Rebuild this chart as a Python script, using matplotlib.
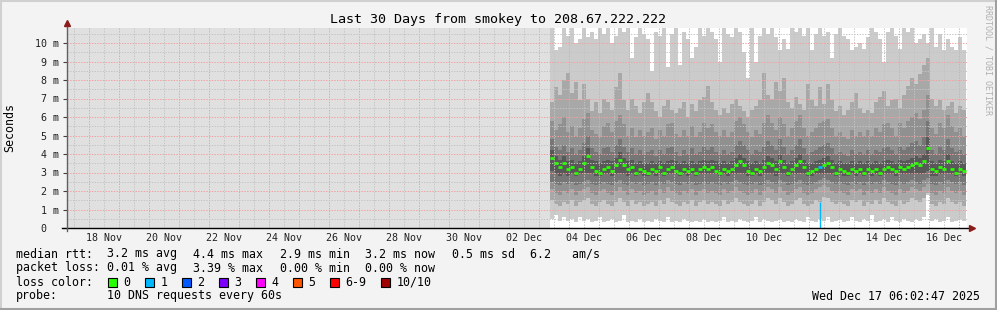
import numpy as np
import pandas as pd
import matplotlib
matplotlib.use("Agg")
import matplotlib.pyplot as plt
import matplotlib.dates as mdates
from matplotlib.patches import Rectangle
from matplotlib.lines import Line2D

plt.rcParams['font.family'] = ['DejaVu Sans Mono']

W, H = 997, 310

### Data (10 sorted pings per sample, in ms)

t_end = pd.Timestamp("2025-12-17 06:02:47")
t_start = t_end - pd.Timedelta(days=30)
t_edges = pd.date_range("2025-12-03 08:26", periods=105, freq="192min")

p10 = [11, 9.6, 9.8, 11, 10.4, 11, 10.0, 10.2,
       11, 10.3, 10.6, 10.2, 11, 10.5, 11, 10.0,
       10.4, 11, 10.6, 11, 9.2, 10.3, 11, 10.5,
       10.2, 8.5, 10.6, 10.4, 11, 8.7, 10.5, 10.8,
       8.8, 10.6, 10.2, 9.2, 9.8, 11, 10.4, 11,
       10.6, 10.2, 9.0, 11, 10.5, 10.3, 11, 10.6,
       9.5, 8.1, 11, 9.0, 10.4, 11, 10.5, 11,
       10.3, 9.6, 10.2, 9.7, 11, 10.6, 10.8, 10.4,
       11, 9.6, 10.5, 11, 10.4, 10.6, 9.2, 10.5,
       11, 10.4, 10.2, 9.6, 9.8, 10.0, 9.7, 10.3,
       11, 10.6, 10.2, 9.0, 10.6, 11, 10.4, 9.7,
       11, 10.6, 10.8, 10.0, 10.2, 10.5, 10.0, 11,
       9.8, 10.5, 9.6, 10.2, 9.8, 9.6, 10.3, 9.6]
p9 = [6.8, 7.6, 7.2, 8.0, 8.4, 7.3, 7.9, 6.9,
      7.8, 7.0, 6.3, 6.8, 6.2, 7.0, 6.8, 6.4,
      7.6, 8.4, 6.9, 6.4, 7.0, 6.6, 6.2, 6.8,
      7.3, 6.8, 6.3, 6.0, 6.6, 6.9, 6.4, 6.2,
      6.5, 6.8, 6.0, 6.7, 6.3, 6.9, 7.1, 7.7,
      6.8, 6.4, 6.1, 6.5, 6.2, 6.7, 7.0, 6.6,
      6.3, 6.0, 6.4, 6.6, 6.9, 8.4, 7.2, 7.0,
      7.9, 7.4, 8.1, 6.8, 6.5, 7.1, 6.7, 6.4,
      7.8, 6.9, 6.6, 7.6, 6.7, 7.8, 6.9, 6.3,
      6.6, 6.1, 6.4, 6.8, 7.3, 6.5, 6.2, 6.4,
      6.2, 6.8, 7.1, 7.4, 6.6, 6.9, 7.0, 6.5,
      7.2, 7.7, 8.1, 7.8, 8.3, 8.8, 9.2, 7.0,
      6.6, 6.9, 6.4, 6.6, 6.8, 6.2, 6.6, 6.4]
p8 = [5.8, 5.3, 5.6, 6.0, 5.2, 5.5, 5.0, 5.4,
      5.9, 6.2, 5.3, 5.1, 4.9, 5.5, 5.7, 5.2,
      5.8, 6.1, 5.6, 5.0, 5.4, 4.9, 5.3, 5.0,
      5.2, 5.4, 4.8, 5.3, 5.0, 5.6, 5.7, 5.1,
      4.9, 5.3, 5.0, 5.5, 4.9, 5.2, 5.7, 5.4,
      5.6, 5.2, 5.0, 5.3, 4.9, 5.2, 5.8, 6.0,
      5.6, 5.2, 4.9, 5.3, 5.1, 5.7, 6.1, 5.7,
      5.3, 6.0, 5.6, 5.0, 5.4, 5.8, 6.1, 5.4,
      5.0, 5.2, 5.4, 5.7, 5.8, 5.9, 5.4, 5.0,
      5.2, 4.9, 4.8, 5.3, 5.0, 5.2, 5.0, 5.3,
      5.0, 5.4, 5.2, 5.6, 5.7, 5.4, 5.0, 5.7,
      5.4, 5.8, 6.0, 6.2, 5.9, 6.4, 7.2, 5.4,
      5.1, 5.7, 5.4, 6.1, 5.5, 5.2, 5.4, 5.0]
p7 = [4.8, 4.4, 4.2, 4.5, 4.1, 4.3, 4.0, 4.2,
      4.6, 5.0, 4.3, 4.1, 4.0, 4.3, 4.4, 4.1,
      4.5, 4.8, 4.4, 4.1, 4.3, 4.0, 4.2, 4.0,
      4.1, 4.2, 3.9, 4.2, 4.0, 4.3, 4.4, 4.1,
      3.9, 4.2, 4.0, 4.3, 4.0, 4.1, 4.4, 4.2,
      4.4, 4.1, 4.0, 4.2, 4.0, 4.1, 4.5, 4.7,
      4.5, 4.2, 4.0, 4.2, 4.1, 4.4, 4.7, 4.5,
      4.2, 4.8, 4.4, 4.0, 4.2, 4.5, 4.8, 4.3,
      4.0, 4.1, 4.2, 4.4, 4.5, 4.6, 4.3, 4.0,
      4.1, 4.0, 3.9, 4.2, 4.0, 4.1, 4.0, 4.2,
      4.0, 4.2, 4.1, 4.3, 4.4, 4.2, 4.0, 4.4,
      4.2, 4.4, 4.6, 4.7, 4.5, 4.9, 5.8, 4.2,
      4.0, 4.4, 4.2, 4.8, 4.3, 4.1, 4.2, 4.0]
p6 = [4.2, 3.9, 3.7, 3.9, 3.6, 3.7, 3.5, 3.6,
      3.9, 4.3, 3.7, 3.6, 3.5, 3.6, 3.7, 3.6,
      3.8, 4.1, 3.8, 3.6, 3.7, 3.5, 3.6, 3.5,
      3.5, 3.6, 3.5, 3.6, 3.5, 3.6, 3.7, 3.6,
      3.5, 3.6, 3.5, 3.6, 3.5, 3.6, 3.7, 3.6,
      3.7, 3.6, 3.5, 3.6, 3.5, 3.6, 3.8, 4.0,
      3.8, 3.6, 3.5, 3.6, 3.5, 3.7, 3.9, 3.8,
      3.6, 4.0, 3.7, 3.5, 3.6, 3.8, 4.0, 3.7,
      3.5, 3.5, 3.6, 3.7, 3.8, 3.9, 3.7, 3.5,
      3.6, 3.5, 3.5, 3.6, 3.5, 3.6, 3.5, 3.6,
      3.5, 3.6, 3.5, 3.6, 3.7, 3.6, 3.5, 3.7,
      3.6, 3.7, 3.8, 3.9, 3.8, 4.0, 4.9, 3.6,
      3.5, 3.7, 3.6, 4.0, 3.6, 3.5, 3.6, 3.5]
p5 = [3.1, 2.9, 2.8, 2.9, 2.8, 2.9, 2.8, 2.9,
      2.9, 3.0, 2.9, 2.8, 2.8, 2.9, 2.9, 2.8,
      2.9, 3.0, 2.9, 2.8, 2.9, 2.8, 2.9, 2.8,
      2.8, 2.9, 2.8, 2.9, 2.8, 2.9, 2.9, 2.9,
      2.8, 2.9, 2.8, 2.9, 2.8, 2.9, 2.9, 2.9,
      2.9, 2.9, 2.8, 2.9, 2.8, 2.9, 2.9, 3.0,
      2.9, 2.8, 2.8, 2.9, 2.8, 2.9, 3.0, 2.9,
      2.8, 3.0, 2.9, 2.8, 2.9, 2.9, 3.0, 2.9,
      2.8, 2.8, 2.9, 2.9, 2.9, 3.0, 2.9, 2.8,
      2.9, 2.8, 2.8, 2.9, 2.8, 2.9, 2.8, 2.9,
      2.8, 2.9, 2.8, 2.9, 2.9, 2.9, 2.8, 2.9,
      2.9, 2.9, 2.9, 3.0, 2.9, 3.0, 3.1, 2.8,
      2.8, 2.9, 2.9, 3.0, 2.9, 2.8, 2.9, 2.8]
p4 = [2.5, 2.4, 2.3, 2.5, 2.4, 2.5, 2.3, 2.4,
      2.5, 2.6, 2.4, 2.3, 2.4, 2.5, 2.4, 2.3,
      2.5, 2.6, 2.4, 2.3, 2.5, 2.4, 2.5, 2.3,
      2.4, 2.5, 2.3, 2.5, 2.4, 2.6, 2.5, 2.4,
      2.3, 2.5, 2.4, 2.5, 2.3, 2.4, 2.5, 2.4,
      2.5, 2.4, 2.3, 2.5, 2.4, 2.5, 2.6, 2.5,
      2.4, 2.3, 2.4, 2.5, 2.3, 2.4, 2.6, 2.5,
      2.4, 2.6, 2.5, 2.3, 2.4, 2.5, 2.6, 2.4,
      2.3, 2.4, 2.5, 2.6, 2.7, 2.6, 2.5, 2.4,
      2.5, 2.4, 2.3, 2.5, 2.4, 2.5, 2.3, 2.5,
      2.4, 2.5, 2.4, 2.6, 2.5, 2.4, 2.3, 2.5,
      2.4, 2.5, 2.6, 2.5, 2.4, 2.6, 2.7, 2.4,
      2.3, 2.5, 2.4, 2.6, 2.5, 2.4, 2.5, 2.3]
p3 = [2.1, 1.9, 1.8, 2.0, 1.9, 2.1, 1.8, 2.0,
      2.1, 2.2, 1.9, 1.8, 2.0, 2.1, 1.9, 1.8,
      2.0, 2.2, 2.0, 1.8, 2.1, 1.9, 2.0, 1.8,
      1.9, 2.0, 1.8, 2.1, 1.9, 2.2, 2.0, 1.9,
      1.8, 2.0, 1.9, 2.1, 1.8, 2.0, 2.1, 1.9,
      2.0, 1.9, 1.8, 2.1, 1.9, 2.0, 2.2, 2.0,
      1.9, 1.8, 1.9, 2.1, 1.8, 2.0, 2.2, 2.1,
      1.9, 2.2, 2.0, 1.8, 1.9, 2.1, 2.2, 1.9,
      1.8, 1.9, 2.1, 2.2, 2.3, 2.2, 2.0, 1.9,
      2.0, 1.9, 1.8, 2.1, 2.0, 2.1, 1.8, 2.0,
      1.9, 2.1, 1.9, 2.2, 2.0, 1.9, 1.8, 2.1,
      1.9, 2.0, 2.2, 2.1, 2.0, 2.2, 2.4, 1.9,
      1.8, 2.0, 1.9, 2.2, 2.0, 1.9, 2.0, 1.8]
p2 = [1.5, 1.3, 1.2, 1.4, 1.3, 1.5, 1.2, 1.4,
      1.5, 1.6, 1.3, 1.2, 1.4, 1.5, 1.3, 1.2,
      1.4, 1.6, 1.4, 1.2, 1.5, 1.3, 1.4, 1.2,
      1.3, 1.4, 1.2, 1.5, 1.3, 1.6, 1.4, 1.3,
      1.2, 1.4, 1.3, 1.5, 1.2, 1.4, 1.5, 1.3,
      1.4, 1.3, 1.2, 1.5, 1.3, 1.4, 1.6, 1.4,
      1.3, 1.2, 1.3, 1.5, 1.2, 1.4, 1.6, 1.5,
      1.3, 1.6, 1.4, 1.2, 1.3, 1.5, 1.6, 1.3,
      1.2, 1.3, 1.5, 1.4, 1.7, 1.6, 1.4, 1.3,
      1.4, 1.3, 1.2, 1.5, 1.4, 1.5, 1.2, 1.4,
      1.3, 1.5, 1.3, 1.6, 1.4, 1.3, 1.2, 1.5,
      1.3, 1.4, 1.6, 1.5, 1.4, 1.6, 1.9, 1.3,
      1.2, 1.4, 1.3, 1.6, 1.4, 1.3, 1.4, 1.2]
p1 = [0.5, 0.7, 0.4, 0.6, 0.4, 0.5, 0.3, 0.6,
      0.4, 0.5, 0.3, 0.4, 0.6, 0.3, 0.4, 0.5,
      0.3, 0.4, 0.7, 0.3, 0.4, 0.3, 0.5, 0.3,
      0.4, 0.3, 0.5, 0.4, 0.3, 0.6, 0.3, 0.4,
      0.3, 0.5, 0.4, 0.3, 0.4, 0.3, 0.5, 0.3,
      0.4, 0.3, 0.4, 0.6, 0.3, 0.4, 0.3, 0.5,
      0.4, 0.3, 0.4, 0.6, 0.3, 0.5, 0.4, 0.3,
      0.4, 0.5, 0.3, 0.4, 0.3, 0.5, 0.4, 0.3,
      0.6, 0.4, 0.3, 0.5, 0.4, 0.6, 0.3, 0.4,
      0.5, 0.3, 0.4, 0.6, 0.4, 0.3, 0.5, 0.4,
      0.7, 0.3, 0.4, 0.5, 0.3, 0.6, 0.4, 0.3,
      0.5, 0.4, 0.3, 0.5, 0.4, 0.6, 1.8, 0.4,
      0.5, 0.3, 0.4, 0.6, 0.3, 0.4, 0.5, 0.4]
median = [3.8, 3.5, 3.3, 3.5, 3.2, 3.3, 3.0, 3.2,
          3.5, 3.9, 3.3, 3.1, 3.0, 3.2, 3.3, 3.1,
          3.4, 3.7, 3.4, 3.2, 3.3, 3.0, 3.2, 3.1,
          3.0, 3.2, 3.1, 3.3, 3.0, 3.2, 3.3, 3.1,
          3.0, 3.2, 3.1, 3.2, 3.0, 3.2, 3.3, 3.2,
          3.3, 3.1, 3.0, 3.2, 3.1, 3.2, 3.4, 3.6,
          3.4, 3.1, 3.0, 3.2, 3.1, 3.3, 3.5, 3.4,
          3.2, 3.6, 3.3, 3.0, 3.2, 3.4, 3.6, 3.3,
          3.0, 3.1, 3.2, 3.3, 3.4, 3.5, 3.3, 3.0,
          3.2, 3.1, 3.0, 3.2, 3.1, 3.2, 3.0, 3.2,
          3.1, 3.2, 3.0, 3.2, 3.3, 3.2, 3.1, 3.3,
          3.2, 3.3, 3.4, 3.5, 3.4, 3.6, 4.3, 3.2,
          3.1, 3.3, 3.2, 3.6, 3.2, 3.0, 3.2, 3.1]
loss = np.zeros(104, dtype=int)
loss[67] = 1

loss_labels = ['0', '1', '2', '3', '4', '5', '6-9', '10/10']
loss_colors = ['#26ff00', '#00b8ff', '#0059ff', '#7e00ff', '#ff00ff',
               '#ff5500', '#ff0000', '#a00000']
smoke_colors = ['#cbcbcb', '#a8a8a8', '#909090', '#767676', '#585858']

legend_rows = [
    ("median rtt:", ["3.2 ms avg", "4.4 ms max", "2.9 ms min", "3.2 ms now",
                     "0.5 ms sd", "6.2   am/s"]),
    ("packet loss:", ["0.01 % avg", "3.39 % max", "0.00 % min", "0.00 % now"]),
]
title = "Last 30 Days from smokey to 208.67.222.222"

### Figure

def fx(x):
    return x / W

def fy(y):
    return 1 - y / H

fig = plt.figure(figsize=(W / 100, H / 100), dpi=100)
fig.patch.set_facecolor('#f3f3f3')
# rrdtool style 3D frame
fig.add_artist(Line2D([0, 1], [fy(0.5), fy(0.5)], color='#d0d0d0', lw=1.5))
fig.add_artist(Line2D([fx(0.5), fx(0.5)], [0, 1], color='#d0d0d0', lw=1.5))
fig.add_artist(Line2D([0, 1], [fy(309), fy(309)], color='#a0a0a0', lw=1.5))
fig.add_artist(Line2D([fx(996), fx(996)], [0, 1], color='#a0a0a0', lw=1.5))

ax = fig.add_axes([fx(67), fy(228), 900 / W, 200 / H])
ax.set_facecolor('white')

edges = mdates.date2num(t_edges.to_pydatetime())
x0 = mdates.date2num(t_start.to_pydatetime())
x1 = mdates.date2num(t_end.to_pydatetime())

# no data before the first sample
ax.axvspan(x0, edges[0], color='#e0e0e0', lw=0, zorder=0)

lows = [p1, p2, p3, p4, p5]
highs = [p10, p9, p8, p7, p6]
for lo, hi, c in zip(lows, highs, smoke_colors):
    ax.stairs(hi, edges, baseline=lo, fill=True, color=c, lw=0, zorder=1)

# grid
midnights = mdates.date2num(pd.date_range("2025-11-18", "2025-12-17", freq="D").to_pydatetime())
noons = mdates.date2num(pd.date_range("2025-11-17 12:00", "2025-12-16 12:00", freq="D").to_pydatetime())
dots = (0, (1.4, 1.4))
for v in noons:
    ax.axvline(v, color='#c4c4c4', lw=0.7, ls=dots, zorder=2)
for v in midnights:
    ax.axvline(v, color='#f2a0a0', lw=0.7, ls=dots, zorder=2)
for v in np.arange(0.5, 10.6, 1.0):
    ax.axhline(v, color='#c4c4c4', lw=0.7, ls=dots, zorder=2)
for v in range(1, 11):
    ax.axhline(v, color='#f2a0a0', lw=0.7, ls=dots, zorder=2)

# median, coloured by loss, drawn as short flat dashes like smokeping
med = np.array(median, dtype=float)
for k, c in enumerate(loss_colors[:2]):
    sel = loss == k
    ax.hlines(med[sel], edges[:-1][sel], edges[1:][sel], color=c, lw=2.0, zorder=4)
li = np.where(loss > 0)[0]
ax.vlines((edges[li] + edges[li + 1]) / 2, 0, np.array(p2)[li],
          color=loss_colors[1], lw=1, zorder=4)

ax.set_xlim(x0, x1)
ax.set_ylim(0, 200 / 18.5)

for s in ax.spines.values():
    s.set_visible(False)

ax.set_yticks(range(0, 11))
ax.set_yticklabels(['0  '] + [f'{i} m' for i in range(1, 11)])
ax.tick_params(axis='y', length=3, width=0.8, color='#404040', pad=2.6,
               labelsize=7.2, labelcolor='#202020')
lab_days = pd.date_range("2025-11-18 12:00", "2025-12-16 12:00", freq="2D")
ax.set_xticks(mdates.date2num(lab_days.to_pydatetime()))
ax.set_xticklabels([d.strftime('%d %b') for d in lab_days])
ax.tick_params(axis='x', length=0, pad=3.6, labelsize=7.2, labelcolor='#202020')

# axis lines with arrows
fig.add_artist(Line2D([fx(62), fx(970)], [fy(228), fy(228)], color='black', lw=1))
fig.add_artist(Line2D([fx(67), fx(67)], [fy(24), fy(231)], color='#606060', lw=1))
fig.add_artist(Line2D([fx(67)], [fy(23)], marker='^', ms=5, color='#8b1a1a', lw=0))
fig.add_artist(Line2D([fx(972)], [fy(228)], marker='>', ms=5, color='#8b1a1a', lw=0))

# texts
fig.text(fx(498), fy(19), title, ha='center', va='center', fontsize=9.6)
fig.text(fx(10), fy(127), "Seconds", rotation=90, ha='center', va='center', fontsize=8.4)
fig.text(fx(988), fy(60), "RRDTOOL / TOBI OETIKER", rotation=270, ha='center',
         va='center', fontsize=6, color='#b0b0b0')

col_x = [107.3, 193.3, 279.5, 365, 451.5, 530]
for (head, items), y in zip(legend_rows, [254, 268]):
    fig.text(fx(16), fy(y), head, ha='left', va='center', fontsize=8.4)
    for it, x in zip(items, col_x):
        fig.text(fx(x), fy(y), it, ha='left', va='center', fontsize=8.4)

fig.text(fx(16), fy(282), "loss color:", ha='left', va='center', fontsize=8.4)
bx = 108.3
for lab, c in zip(loss_labels, loss_colors):
    fig.add_artist(Rectangle((fx(bx), fy(286.5)), 8.5 / W, 8.5 / H, transform=fig.transFigure,
                             facecolor=c, edgecolor='black', lw=0.8))
    fig.text(fx(bx + 15), fy(282), lab, ha='left', va='center', fontsize=8.4)
    bx += 37 + 7 * (len(lab) - 1)

fig.text(fx(16), fy(296), "probe:", ha='left', va='center', fontsize=8.4)
fig.text(fx(107.3), fy(296), "10 DNS requests every 60s", ha='left', va='center', fontsize=8.4)
fig.text(fx(980), fy(296), "Wed Dec 17 06:02:47 2025", ha='right', va='center', fontsize=8.4)

fig.savefig("out.png", dpi=100, facecolor=fig.get_facecolor())
